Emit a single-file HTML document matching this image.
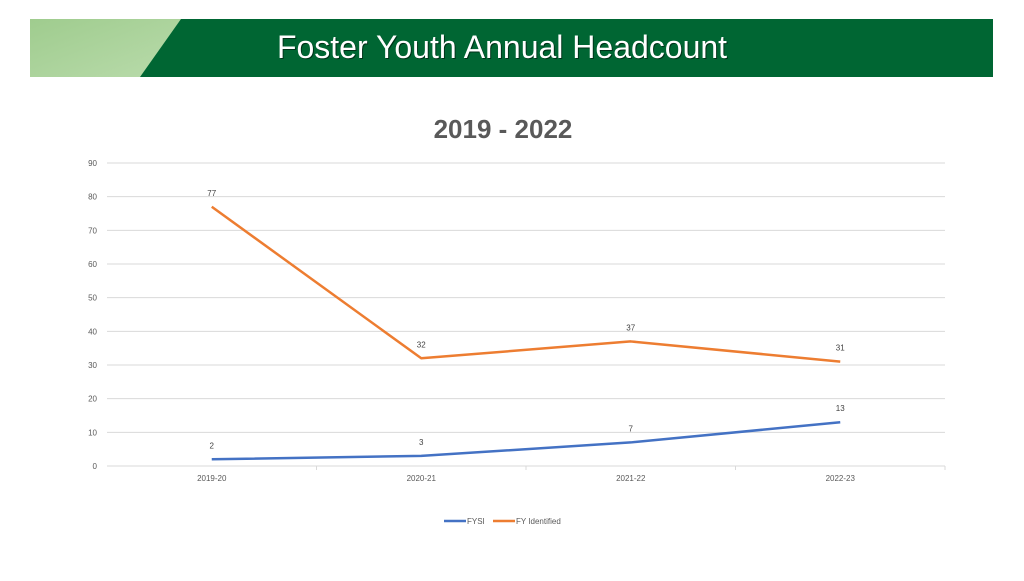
<!DOCTYPE html>
<html><head><meta charset="utf-8"><style>
body{margin:0;width:1024px;height:576px;background:#fff;overflow:hidden;font-family:"Liberation Sans",sans-serif}
</style></head><body>
<svg width="1024" height="576">
<defs><linearGradient id="lg" x1="0" y1="0" x2="1" y2="1"><stop offset="0" stop-color="#9fcc8e"/><stop offset="1" stop-color="#b9dbab"/></linearGradient></defs>
<g>
<rect x="30" y="19" width="963" height="58" fill="#006633"/>
<polygon points="30,19 181,19 140,77 30,77" fill="url(#lg)"/>
<text x="503" y="59" text-anchor="middle" font-size="32" fill="#000" opacity="0.5">Foster Youth Annual Headcount</text>
<text x="502" y="58" text-anchor="middle" font-size="32" fill="#fff">Foster Youth Annual Headcount</text>
</g>
<text x="503" y="138" text-anchor="middle" font-size="26" font-weight="bold" fill="#595959">2019 - 2022</text>
<g id="grid"></g><g id="lines"></g>
<g font-size="8" fill="#595959">
<line x1="444" y1="521" x2="466" y2="521" stroke="#4472c4" stroke-width="2.5"/>
<text x="467" y="524">FYSI</text>
<line x1="493" y1="521" x2="515" y2="521" stroke="#ed7d31" stroke-width="2.5"/>
<text x="516" y="524">FY Identified</text>
</g>
</svg>
<script>
const categories=["2019-20","2020-21","2021-22","2022-23"];
const fysi=[2,3,7,13];
const fyIdentified=[77,32,37,31];
const yTicks=[0,10,20,30,40,50,60,70,80,90];
const NS="http://www.w3.org/2000/svg";
const L=107,R=945,T=163,B=466,MAX=90;
const y=v=>B-(v/MAX)*(B-T);
const bw=(R-L)/categories.length;
const x=i=>L+bw*(i+0.5);
function mk(t,a,p){const e=document.createElementNS(NS,t);for(const k in a)e.setAttribute(k,a[k]);p.appendChild(e);return e;}
const g=document.getElementById('grid');
yTicks.forEach(v=>{
const ln=mk('line',{x1:L,x2:R,y1:y(v),y2:y(v),stroke:'#d9d9d9','stroke-width':1},g);


const t=mk('text',{x:97,y:y(v)+3,'text-anchor':'end','font-size':8,fill:'#595959'},g);
t.textContent=v;


});
categories.forEach((c,i)=>{
const tk=mk('line',{x1:L+bw*(i+1),x2:L+bw*(i+1),y1:B,y2:B+4,stroke:'#d9d9d9'},g);


const t=mk('text',{x:x(i),y:481,'text-anchor':'middle','font-size':8,fill:'#595959'},g);
t.textContent=c;


});
const lg=document.getElementById('lines');
[[fyIdentified,'#ed7d31','fy-identified'],[fysi,'#4472c4','fysi']].forEach(([d,col,n])=>{
const p=mk('polyline',{points:d.map((v,i)=>x(i)+','+y(v)).join(' '),fill:'none',stroke:col,'stroke-width':2.5,'stroke-linejoin':'round'},lg);


d.forEach((v,i)=>{
const t=mk('text',{x:x(i),y:y(v)-11,'text-anchor':'middle','font-size':8,fill:'#404040'},lg);
t.textContent=v;


});
});
</script>
</body></html>
